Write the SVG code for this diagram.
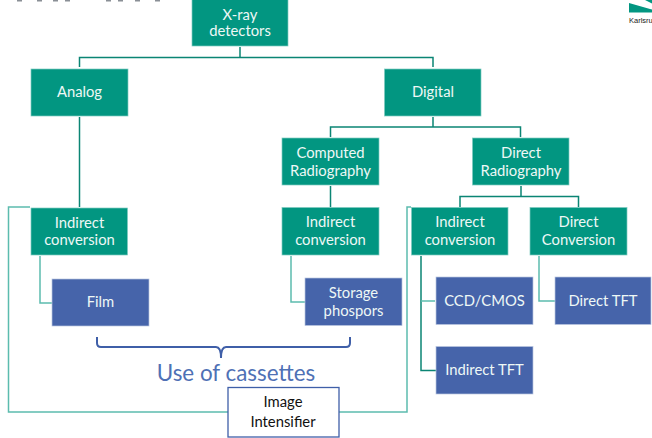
<svg xmlns="http://www.w3.org/2000/svg" width="652" height="438" viewBox="0 0 652 438">
<style>
text{font-family:Lato,"Open Sans","Liberation Sans",sans-serif;font-size:14.800px;text-anchor:middle}
.g rect{fill:#029681;stroke:#7fcbc0;stroke-width:.7}
.b rect{fill:#4664aa;stroke:#b9c5e0;stroke-width:.7}
.g text,.b text{fill:#eef8f6}
#connectors path{fill:none;stroke:#0b8574;stroke-width:1.500}
#connectors path.l{stroke:#5cbcae}
</style>
<rect width="652" height="438" fill="#fff"/>
<g id="header-marks" fill="#8a8f96"><rect x="17" y="0" width="5" height="1.500"/><rect x="37" y="0" width="5" height="1.500"/><rect x="53" y="0" width="5" height="1.500"/><rect x="65" y="0" width="5" height="1.500"/><rect x="106" y="0" width="5" height="1.500"/><rect x="118" y="0" width="5" height="1.500"/><rect x="135" y="0" width="5" height="1.500"/><rect x="155" y="0" width="5" height="1.500"/></g>
<g id="logo"><path d="M629 3L650 9L652 9.500V12.500H629Z" fill="#029681"/><path d="M645 0H652V3.500Z" fill="#029681"/><text x="629" y="23" style="font-family:'Liberation Sans',sans-serif;font-size:7.500px;text-anchor:start;fill:#222">Karlsru</text></g>
<g id="connectors">
<path d="M240 47V57.500M79.500 67V57.500H433V67"/>
<path d="M79.500 117V207"/>
<path d="M433 117V127M330.500 137V127H520.500V137"/>
<path d="M330.500 186V207"/>
<path d="M521 186V196.500M460 207V196.500H578.500V207"/>
<path class="l" d="M30 207H8.500V412H228"/>
<path class="l" d="M339 412H407V207H411"/>
<path class="l" d="M40 256V303H52"/>
<path class="l" d="M291 256V302H305"/>
<path d="M421 256V370.500H436"/>
<path class="l" d="M421 301H435"/>
<path class="l" d="M539 256V301H555"/>
</g>
<g id="x-ray" class="g"><rect x="192" y="-2" width="96" height="48"/><text x="240" y="19.500">X-ray</text><text x="240" y="36">detectors</text></g>
<g id="analog" class="g"><rect x="31" y="69" width="97" height="47"/><text x="79.500" y="97">Analog</text></g>
<g id="digital" class="g"><rect x="384.500" y="69" width="96.500" height="47"/><text x="433" y="97">Digital</text></g>
<g id="computed" class="g"><rect x="282" y="138" width="97" height="47"/><text x="330.500" y="158">Computed</text><text x="330.500" y="176">Radiography</text></g>
<g id="direct-radiography" class="g"><rect x="472.500" y="138" width="96.500" height="47"/><text x="521" y="158">Direct</text><text x="521" y="176">Radiography</text></g>
<g id="indirect-1" class="g"><rect x="31" y="208" width="96.500" height="47"/><text x="79.500" y="228">Indirect</text><text x="79.500" y="245">conversion</text></g>
<g id="indirect-2" class="g"><rect x="282" y="207.500" width="97" height="47.500"/><text x="330.500" y="227">Indirect</text><text x="330.500" y="245">conversion</text></g>
<g id="indirect-3" class="g"><rect x="411.500" y="207.500" width="96.500" height="47.500"/><text x="460" y="227">Indirect</text><text x="460" y="245">conversion</text></g>
<g id="direct-conversion" class="g"><rect x="530" y="207.500" width="97" height="47.500"/><text x="578.500" y="227">Direct</text><text x="578.500" y="245">Conversion</text></g>
<g id="film" class="b"><rect x="52" y="279" width="97" height="47"/><text x="100.500" y="307">Film</text></g>
<g id="storage" class="b"><rect x="305" y="278" width="97" height="47.500"/><text x="353.500" y="298">Storage</text><text x="353.500" y="316">phospors</text></g>
<g id="ccd" class="b"><rect x="436" y="277" width="97" height="47.500"/><text x="484.500" y="306">CCD/CMOS</text></g>
<g id="indirect-tft" class="b"><rect x="436" y="346.500" width="97" height="47.500"/><text x="484.500" y="375">Indirect TFT</text></g>
<g id="direct-tft" class="b"><rect x="555" y="277" width="96" height="47.500"/><text x="603" y="306">Direct TFT</text></g>
<g id="brace"><path d="M97 337V343Q97 347 101 347H216Q221 347 221 358Q221 347 226 347H346Q350 347 350 343V337" fill="none" stroke="#3f5fa8" stroke-width="2"/><text x="236" y="381" style="font-size:22.400px;fill:#4f71b5">Use of cassettes</text></g>
<g id="image-intensifier"><rect x="228" y="387.500" width="111" height="49.500" fill="#fff" stroke="#3f5fa8" stroke-width="1.300"/><text x="283" y="407" fill="#111">Image</text><text x="283" y="427" fill="#111">Intensifier</text></g>
</svg>
